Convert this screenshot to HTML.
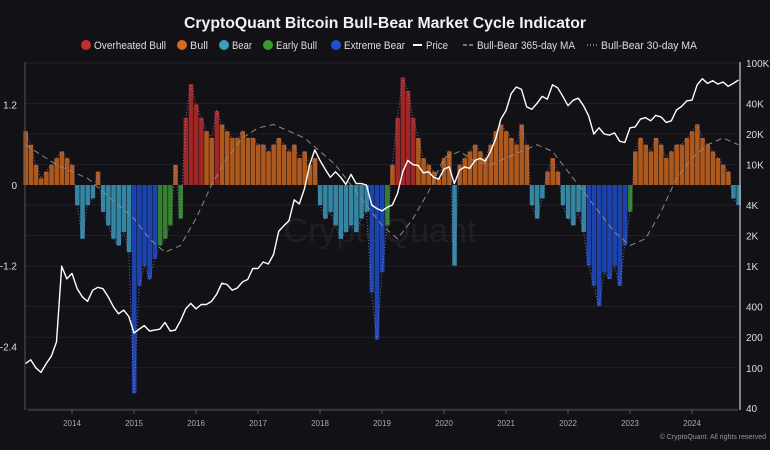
<!DOCTYPE html>
<html><head><meta charset="utf-8"><style>
html,body{margin:0;padding:0;background:#121116;}
svg{display:block;font-family:"Liberation Sans",sans-serif;}
</style></head><body>
<svg id="chart" width="770" height="450" viewBox="0 0 770 450" xmlns="http://www.w3.org/2000/svg">
<rect width="770" height="450" fill="#121116"/>
<text x="385" y="28" text-anchor="middle" fill="#f2f2f2" font-size="16" font-weight="bold" textLength="402" lengthAdjust="spacingAndGlyphs">CryptoQuant Bitcoin Bull-Bear Market Cycle Indicator</text>
<g id="legend" font-size="11" fill="#ddd"></g>
<text x="380" y="242" text-anchor="middle" fill="#ffffff" fill-opacity="0.06" font-size="34">CryptoQuant</text>
<g id="grid"></g><g id="bars"></g><g id="lines"></g><g id="axes"></g>
<text x="766" y="439" text-anchor="end" fill="#999" font-size="7">© CryptoQuant. All rights reserved</text>
</svg>
<script>
const startYear = 2013.25;
const indicator = [
0.8,0.6,0.3,0.1,0.2,0.3,0.4,0.5,0.4,
0.3,-0.3,-0.8,-0.3,-0.2,0.2,-0.4,-0.6,-0.8,-0.9,-0.7,-1.0,
-3.1,-1.5,-1.2,-1.4,-1.1,-0.9,-0.8,-0.6,0.3,-0.5,1.0,1.5,
1.2,1.0,0.8,0.7,1.1,0.9,0.8,0.7,0.7,0.8,0.7,0.7,
0.6,0.6,0.5,0.6,0.7,0.6,0.5,0.6,0.4,0.5,0.3,0.4,
-0.3,-0.5,-0.4,-0.6,-0.8,-0.7,-0.6,-0.7,-0.5,-0.4,-1.6,-2.3,
-1.3,-0.6,0.3,1.0,1.6,1.4,1.0,0.7,0.4,0.3,0.2,0.1,
0.4,0.5,-1.2,0.3,0.4,0.5,0.6,0.5,0.4,0.6,0.8,0.9,
0.8,0.7,0.6,0.9,0.6,-0.3,-0.5,-0.2,0.2,0.4,0.2,-0.3,
-0.5,-0.6,-0.4,-0.7,-1.2,-1.5,-1.8,-1.3,-1.4,-1.2,-1.5,-0.9,
-0.4,0.5,0.7,0.6,0.5,0.7,0.6,0.4,0.5,0.6,0.6,0.7,
0.8,0.9,0.7,0.6,0.5,0.4,0.3,0.2,-0.2,-0.3];
const regime = (
"BBBBBBBBB"+
"BRRRRBRRRRRR"+
"XXXXXEEEBEOO"+
"OOBBOBBBBBBB"+
"BBBBBBBBBBBB"+
"RRRRRRRRRRXX"+
"XEBOOOOBBBBB"+
"BBRBBBBBBBBB"+
"BBBBBRRRBBBR"+
"RRRRXXXXXXXX"+
"EBBBBBBBBBBB"+
"BBBBBBBBRR").split("");
const price = [
110,120,100,90,110,130,180,1000,750,
850,600,500,450,580,620,600,500,400,340,370,320,
220,240,260,230,235,240,280,230,235,290,380,430,
380,420,420,450,530,680,660,580,610,700,740,950,
950,1100,1050,1300,2200,2500,2800,4500,4100,5800,10000,14000,
11000,9000,7500,8500,7500,6400,8000,6500,6500,6300,4000,3700,
3500,3800,4000,5200,8500,11000,10000,9800,8300,8500,7500,7200,
9000,9500,6500,8800,9500,9200,11000,11500,10800,13500,18000,28000,
34000,50000,58000,55000,37000,35000,40000,47000,44000,61000,57000,47000,
38000,43000,45000,38000,30000,20000,23000,20000,19500,20500,17000,16500,
23000,23500,28000,29000,27000,30500,29500,26000,27000,34500,37500,42500,
43000,61000,70000,63000,67000,62000,65000,59000,63000,68000];
const ma365 = [0.6,0.45,0.3,0.2,0.1,-0.1,-0.3,-0.5,-0.8,-1.0,-0.9,-0.5,0,0.4,0.7,0.85,0.9,0.8,0.7,0.5,0.3,0,-0.3,-0.6,-0.8,-0.5,-0.1,0.4,0.5,0.35,0.3,0.4,0.5,0.6,0.5,0.2,-0.1,-0.4,-0.7,-0.9,-0.8,-0.4,0.1,0.4,0.6,0.7,0.6];
const leftTicks = [1.2,0,-1.2,-2.4];
const leftTickLabels = ["1.2","0","-1.2","-2.4"];
const rightTicks = [100000,40000,20000,10000,4000,2000,1000,400,200,100,40];
const rightTickLabels = ["100K","40K","20K","10K","4K","2K","1K","400","200","100","40"];
const yearTicks = [2014,2015,2016,2017,2018,2019,2020,2021,2022,2023,2024];

const NS="http://www.w3.org/2000/svg";
function mk(tag,attrs,parent){const e=document.createElementNS(NS,tag);for(const k in attrs)e.setAttribute(k,attrs[k]);parent.appendChild(e);return e;}
const xS = t => 72 + (t-2014)*62;
const yL = v => 185 - v*67.2;
const yR = p => 63 + (5 - Math.log10(p))*101.6;
const colors={O:"#b82d2a",B:"#c9651f",R:"#3a9aba",E:"#3a9530",X:"#1f4cc8"};

const grid=document.getElementById('grid'), axes=document.getElementById('axes');
rightTicks.forEach((p,i)=>{
  const g=mk('line',{x1:25,x2:738,y1:yR(p),y2:yR(p),stroke:"#222128","stroke-width":1},grid);
  
  const t=mk('text',{x:746,y:yR(p)+4,fill:"#ddd","font-size":10},axes);t.textContent=rightTickLabels[i];
  
});
leftTicks.forEach((v,i)=>{
  const t=mk('text',{x:17,y:yL(v)+4,fill:"#ddd","font-size":10,"text-anchor":"end"},axes);t.textContent=leftTickLabels[i];
  
});
yearTicks.forEach(yr=>{
  const t=mk('text',{x:xS(yr),y:426,fill:"#aaa","font-size":8,"text-anchor":"middle"},axes);t.textContent=yr;
  
  const k=mk('line',{x1:xS(yr),x2:xS(yr),y1:410,y2:414,stroke:"#555"},axes);
  
});
let ax=mk('line',{x1:25,x2:25,y1:62,y2:410,stroke:"#555"},axes);
ax=mk('line',{x1:28,x2:738,y1:410,y2:410,stroke:"#555"},axes);
ax=mk('line',{x1:740,x2:740,y1:62,y2:410,stroke:"#aaa","stroke-width":1.5},axes);

const bars=document.getElementById('bars');
const bw=62/12;
indicator.forEach((v,i)=>{
  const t=startYear+i/12, x=xS(t);
  const y0=yL(0), y1=yL(v);
  const r=mk('rect',{x:x-bw/2+0.5,y:Math.min(y0,y1),width:bw-0.6,height:Math.abs(y1-y0),fill:colors[regime[i]]||"#c9651f","fill-opacity":0.85},bars);
  
});
const lines=document.getElementById('lines');
let d30=indicator.map((v,i)=>(i?'L':'M')+xS(startYear+i/12).toFixed(1)+','+yL(v).toFixed(1)).join('');
let l=mk('path',{d:d30,fill:"none",stroke:"#9a8fe0","stroke-width":1,"stroke-dasharray":"1 2","stroke-opacity":0.7},lines);

let dma=ma365.map((v,i)=>(i?'L':'M')+xS(startYear+i*0.25).toFixed(1)+','+yL(v).toFixed(1)).join('');
l=mk('path',{d:dma,fill:"none",stroke:"#8a8a8a","stroke-width":1,"stroke-dasharray":"6 4"},lines);

let dp=price.map((p,i)=>(i?'L':'M')+xS(startYear+i/12).toFixed(1)+','+yR(p).toFixed(1)).join('');
l=mk('path',{d:dp,fill:"none",stroke:"#ffffff","stroke-width":1.4,"stroke-linejoin":"round"},lines);


const legend=document.getElementById('legend');
const items=[["dot","#c3302b","Overheated Bull",86,72],["dot","#d4691f","Bull",182,18],["dot","#3a9fbe","Bear",224,20],["dot","#3b9a2f","Early Bull",268,41],["dot","#1f4ed4","Extreme Bear",336,61],["line","#fff","Price",418,22],["dash","#999","Bull-Bear 365-day MA",469,98],["dot2","#9a8fe0","Bull-Bear 30-day MA",593,96]];
items.forEach(it=>{
  const g=mk('g',{},legend);
  
  const x=it[3];
  if(it[0]==='dot') mk('circle',{cx:x,cy:45,r:5,fill:it[1]},g);
  else if(it[0]==='line') mk('line',{x1:x-5,x2:x+4,y1:45,y2:45,stroke:it[1],"stroke-width":2},g);
  else if(it[0]==='dash') mk('line',{x1:x-6,x2:x+4,y1:45,y2:45,stroke:it[1],"stroke-width":1.5,"stroke-dasharray":"4 2"},g);
  else mk('line',{x1:x-6,x2:x+4,y1:45,y2:45,stroke:it[1],"stroke-width":1.5,"stroke-dasharray":"1 2"},g);
  const t=mk('text',{x:x+8,y:49,fill:"#ddd","font-size":11,textLength:it[4],lengthAdjust:"spacingAndGlyphs"},g);t.textContent=it[2];
});
</script>
</body></html>
